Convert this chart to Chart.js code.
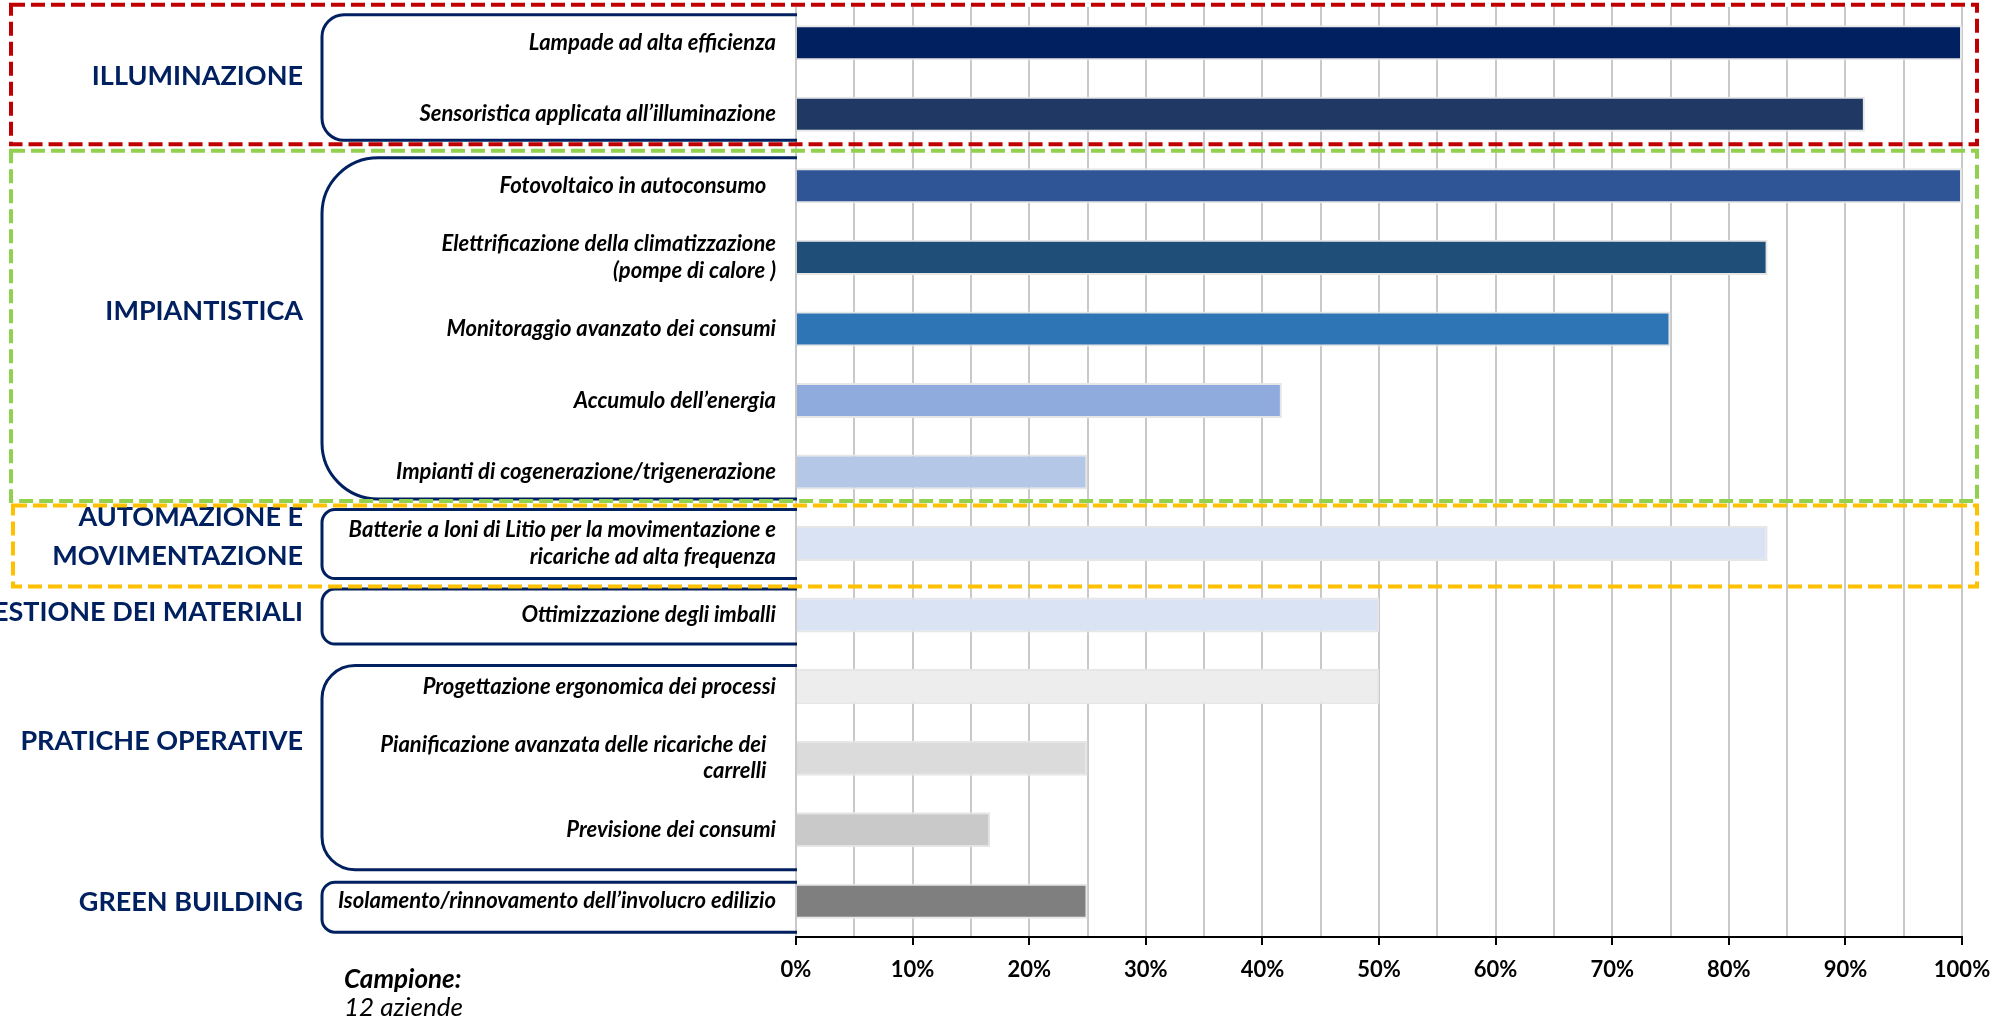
<!DOCTYPE html>
<html>
<head>
<meta charset="utf-8">
<script src="https://cdn.jsdelivr.net/npm/chart.js@4.4.1/dist/chart.umd.min.js"></script>
<style>
  html, body { margin: 0; padding: 0; background: #fff; }
  canvas { display: block; }
</style>
</head>
<body>
<canvas id="chart" width="1992" height="1019"></canvas>
<script>
// Voci dell'asse y (dall'alto in basso)
const categories = [
  'Lampade ad alta efficienza',
  'Sensoristica applicata all’illuminazione',
  'Fotovoltaico in autoconsumo  ',
  ['Elettrificazione della climatizzazione', '(pompe di calore )'],
  'Monitoraggio avanzato dei consumi',
  'Accumulo dell’energia',
  'Impianti di cogenerazione/trigenerazione',
  ['Batterie a Ioni di Litio per la movimentazione e', 'ricariche ad alta frequenza'],
  'Ottimizzazione degli imballi',
  'Progettazione ergonomica dei processi',
  ['Pianificazione avanzata delle ricariche dei  ', 'carrelli  '],
  'Previsione dei consumi',
  'Isolamento/rinnovamento dell’involucro edilizio'
];

// % di aziende che adottano la soluzione (campione: 12 aziende)
const values = [100, 91.67, 100, 83.33, 75, 41.67, 25, 83.33, 50, 50, 25, 16.67, 25];

const barColors = ['#002060', '#1F3864', '#2F5597', '#1F4E79', '#2E75B6', '#8FAADC', '#B4C7E7',
                   '#DAE3F3', '#DAE3F3', '#EDEDED', '#DBDBDB', '#C9C9C9', '#7F7F7F'];

const tickLabels = ['0%', '10%', '20%', '30%', '40%', '50%', '60%', '70%', '80%', '90%', '100%'];

// Gruppi (indici della prima e ultima voce)
const groupNames = ['ILLUMINAZIONE', 'IMPIANTISTICA', ['AUTOMAZIONE E', 'MOVIMENTAZIONE'],
                    'GESTIONE DEI MATERIALI', 'PRATICHE OPERATIVE', 'GREEN BUILDING'];
const groupStart = [0, 2, 7, 8, 9, 12];
const groupEnd = [1, 6, 7, 8, 11, 12];

const NAVY = '#002060';

// stile delle parentesi: [margine sopra, margine sotto, raggio, spostamento etichetta]
const bracketStyle = [
  [28, 26, 22, -2],
  [28, 27, 56, -18],
  [34, 35, 13, -7],
  [26, 29, 13, -3],
  [21, 40, 33, -17],
  [19, 31, 13, 1]
];

// riquadri tratteggiati
const frames = [
  { group: 0, color: '#C00000', top: 38, bottom: 30, left: 11 },
  { group: 1, color: '#92D050', top: 35, bottom: 29, left: 11 },
  { group: 2, color: '#FFC000', top: 38, bottom: 43, left: 13 }
];

const decorations = {
  id: 'decorations',
  afterDraw(chart) {
    const ctx = chart.ctx;
    const y = chart.scales.y;
    const area = chart.chartArea;
    const boxLeft = 322;
    const boxRight = area.left + 1;

    ctx.save();
    // parentesi arrotondate + etichette di gruppo
    groupNames.forEach((name, i) => {
      const [pt, pb, r, shift] = bracketStyle[i];
      const top = y.getPixelForValue(groupStart[i]) - pt;
      const bottom = y.getPixelForValue(groupEnd[i]) + pb;

      ctx.strokeStyle = NAVY;
      ctx.lineWidth = 3;
      ctx.setLineDash([]);
      ctx.beginPath();
      ctx.moveTo(boxRight, top);
      ctx.lineTo(boxLeft + r, top);
      ctx.arcTo(boxLeft, top, boxLeft, top + r, r);
      ctx.lineTo(boxLeft, bottom - r);
      ctx.arcTo(boxLeft, bottom, boxLeft + r, bottom, r);
      ctx.lineTo(boxRight, bottom);
      ctx.stroke();

      const mid = (y.getPixelForValue(groupStart[i]) + y.getPixelForValue(groupEnd[i])) / 2 + shift;
      ctx.fillStyle = NAVY;
      ctx.font = 'bold 27px Lato';
      ctx.textAlign = 'right';
      ctx.textBaseline = 'middle';
      const lines = Array.isArray(name) ? name : [name];
      const lh = 39;
      lines.forEach((ln, k) => {
        ctx.fillText(ln, 303, mid + (k - (lines.length - 1) / 2) * lh);
      });
    });

    // riquadri tratteggiati
    ctx.lineWidth = 4;
    ctx.setLineDash([14, 6]);
    frames.forEach(f => {
      const top = y.getPixelForValue(groupStart[f.group]) - f.top;
      const bottom = y.getPixelForValue(groupEnd[f.group]) + f.bottom;
      ctx.strokeStyle = f.color;
      ctx.strokeRect(f.left, top, 1977 - f.left, bottom - top);
    });

    // nota campione
    ctx.setLineDash([]);
    ctx.fillStyle = '#000';
    ctx.textAlign = 'left';
    ctx.textBaseline = 'middle';
    ctx.font = 'italic bold 26px Lato';
    ctx.fillText('Campione:', 344, 980);
    ctx.font = 'italic 26px Lato';
    ctx.fillText('12 aziende', 344, 1008);
    ctx.restore();
  }
};

new Chart(document.getElementById('chart'), {
  type: 'bar',
  data: {
    labels: categories,
    datasets: [{
      data: values,
      backgroundColor: barColors,
      borderColor: '#E6E6E6',
      borderWidth: 2,
      barPercentage: 0.49,
      categoryPercentage: 1
    }]
  },
  options: {
    indexAxis: 'y',
    responsive: false,
    animation: false,
    devicePixelRatio: 1,
    layout: { padding: { top: 7, right: 30, bottom: 22, left: 0 } },
    plugins: {
      legend: { display: false },
      tooltip: { enabled: false }
    },
    scales: {
      x: {
        min: 0,
        max: 100,
        afterFit: s => { s.height = 60; s.paddingLeft = 0; s.paddingRight = 0; },
        grid: {
          color: '#C9C9C9',
          lineWidth: 2,
          tickLength: 8,
          tickWidth: 2,
          tickColor: c => (c.tick && c.tick.value % 10 === 0) ? '#000' : 'rgba(0,0,0,0)'
        },
        border: { color: '#000', width: 2 },
        ticks: {
          stepSize: 5,
          autoSkip: false,
          maxRotation: 0,
          padding: 12,
          color: '#000',
          font: { family: 'Lato', size: 22, weight: 'bold' },
          callback: v => v % 10 === 0 ? tickLabels[v / 10] : ''
        }
      },
      y: {
        afterFit: s => { s.width = 796; s.paddingTop = 0; s.paddingBottom = 0; },
        grid: { display: false, drawTicks: false },
        border: { display: false },
        ticks: {
          autoSkip: false,
          padding: 20,
          color: '#000',
          font: { family: 'Lato', size: 22, style: 'italic', weight: 'bold', lineHeight: 1.2 }
        }
      }
    }
  },
  plugins: [decorations]
});
</script>
</body>
</html>
